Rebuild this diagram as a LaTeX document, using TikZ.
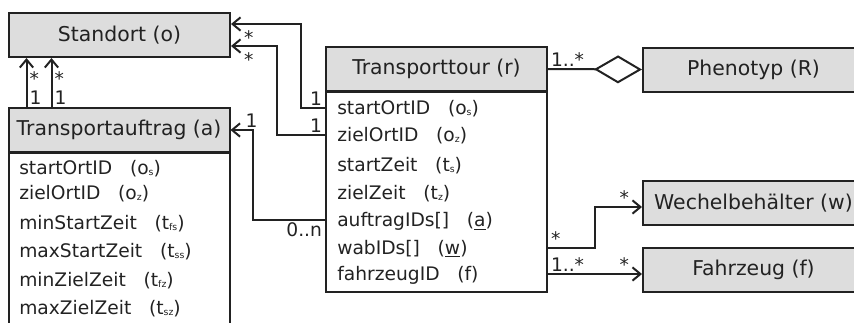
\documentclass[tikz,border=0pt]{standalone}
\usepackage{fontspec}
\setmainfont{DejaVu Sans}
\usetikzlibrary{positioning,arrows.meta,calc}
\definecolor{boxgray}{HTML}{DDDDDD}
\definecolor{linegray}{HTML}{222222}
\newcommand{\lo}[1]{\raisebox{-0.3pt}{\fontsize{7}{7}\selectfont #1}}
\newcommand{\gap}{\hspace{0.95em}}
\tikzset{
  entity/.style={draw, fill=boxgray, line width=1.5pt, minimum width=165.75pt,
    minimum height=33pt, inner sep=0pt, font=\fontsize{15.3}{18}\selectfont},
  body/.style={draw, line width=1.5pt, minimum width=165.75pt, inner sep=0pt,
    outer sep=0pt, anchor=north},
  attr/.style={inner sep=0pt, anchor=west, text height=13pt, text depth=3pt,
    font=\fontsize{14}{16}\selectfont},
  lbl/.style={inner sep=1.5pt, font=\fontsize{14}{16}\selectfont},
  assoc/.style={line width=1.5pt, -{Straight Barb[length=6pt,width=10pt]}},
}

\begin{document}
\begin{tikzpicture}[x=0.75pt,y=-0.75pt,color=linegray]
\useasboundingbox (0,0) rectangle (854,322);
\clip (0,0) rectangle (854,322);

% classes
\node[entity] (o) at (119.5,35) {Standort (o)};
\node[entity] (a) at (119,130) {Transportauftrag (a)};
\node[body,minimum height=160pt] (ab) at (a.south) {};
\node[entity] (r) at (436.5,69) {Transporttour (r)};
\node[body,minimum height=150pt] (rb) at (r.south) {};
\node[entity] (p) at (753.5,69.5) {Phenotyp (R)};
\node[entity] (w) at (753.5,203) {Wechelbehälter (w)};
\node[entity] (f) at (753.5,270) {Fahrzeug (f)};

% attributes of a
\node[attr] (a1) at (19,168) {startOrtID\gap(o\lo{s})};
\node[attr] (a2) at (19,193) {zielOrtID\gap(o\lo{z})};
\node[attr] (a3) at (19,223) {minStartZeit\gap(t\lo{fs})};
\node[attr] (a4) at (19,251) {maxStartZeit\gap(t\lo{ss})};
\node[attr] (a5) at (19,280) {minZielZeit\gap(t\lo{fz})};
\node[attr] (a6) at (19,308) {maxZielZeit\gap(t\lo{sz})};

% attributes of r
\node[attr] (r1) at (337,108) {startOrtID\gap(o\lo{s})};
\node[attr] (r2) at (337,135) {zielOrtID\gap(o\lo{z})};
\node[attr] (r3) at (337,165) {startZeit\gap(t\lo{s})};
\node[attr] (r4) at (337,193) {zielZeit\gap(t\lo{z})};
\node[attr] (r5) at (337,220) {auftragIDs[]\gap(\underline{a})};
\node[attr] (r6) at (337,248) {wabIDs[]\gap(\underline{w})};
\node[attr] (r7) at (337,274) {fahrzeugID\gap(f)};

\coordinate (ao1) at ($(a.north west)+(19,0)$);
\coordinate (ao2) at ($(a.north west)+(44,0)$);

% associations
\draw[assoc] (ao1) -- node[lbl,right,pos=0.2] {1} node[lbl,right,pos=0.58] {*} (ao1 |- o.south);
\draw[assoc] (ao2) -- node[lbl,right,pos=0.2] {1} node[lbl,right,pos=0.58] {*} (ao2 |- o.south);

\draw[assoc] (r1 -| r.west) node[lbl,above left] {1} -- ++(-24,0)
  |- ($(o.east)+(0,-11)$) node[lbl,below right,xshift=7.5pt,yshift=-3pt] {*};
\draw[assoc] (r2 -| r.west) node[lbl,above left] {1} -- ++(-48,0)
  |- ($(o.east)+(0,11)$) node[lbl,below right,xshift=7.5pt,yshift=-3pt] {*};
\draw[assoc] (r5 -| r.west) node[lbl,below left] {0..n} -- ++(-72,0)
  |- (a.east) node[lbl,above right,xshift=9pt] {1};

\draw[line width=1.5pt,-{Diamond[open,length=36pt 0,width=21pt 0]}]
  (r.east) node[lbl,above right] {1..*} -- (p.west);

\draw[assoc] (r6 -| r.east) node[lbl,above right] {*} -- ++(47,0)
  |- ($(w.west)+(0,4)$) node[lbl,above left,xshift=-7.5pt] {*};
\draw[assoc] (r7 -| r.east) node[lbl,above right] {1..*}
  -- (r7 -| f.west) node[lbl,above left,xshift=-7.5pt] {*};

\end{tikzpicture}
\end{document}
